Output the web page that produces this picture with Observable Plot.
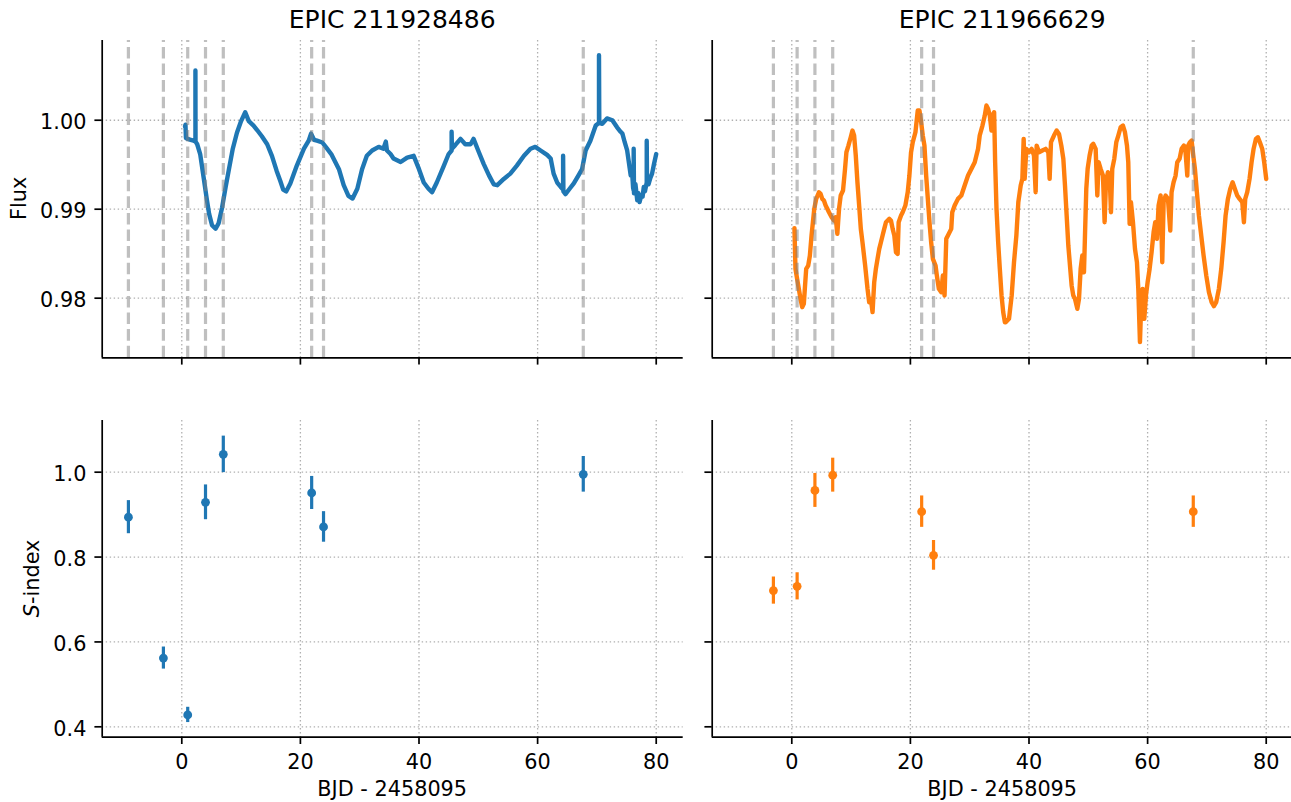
<!DOCTYPE html>
<html>
<head>
<meta charset="utf-8">
<script src="https://cdn.jsdelivr.net/npm/d3@7"></script>
<script src="https://cdn.jsdelivr.net/npm/@observablehq/plot@0.6"></script>
<style>
  html, body { margin: 0; padding: 0; background: #fff; }
  #wrap { position: relative; width: 1291px; height: 802px; overflow: hidden; background: #fff; font-family: "DejaVu Sans", sans-serif; color: #000; }
  .pnl { position: absolute; }
  .lbl { position: absolute; white-space: nowrap; line-height: 1; font-family: "DejaVu Sans", sans-serif; color: #000; }
</style>
</head>
<body>
<div id="wrap"></div>
<script>
// ---------------- data ----------------
const titles = ["EPIC 211928486", "EPIC 211966629"];
const xLabelText = "BJD - 2458095";
const xTicks = [0, 20, 40, 60, 80];
const fluxTicks = [0.98, 0.99, 1.00];
const sTicks = [0.4, 0.6, 0.8, 1.0];

// S-index observations, star 1
const sTime1 = [-9.0, -3.1, 1.0, 4.0, 7.0, 21.9, 23.9, 67.7];
const sIndex1 = [0.894, 0.562, 0.428, 0.929, 1.042, 0.951, 0.871, 0.995];
const sErr1 = [0.039, 0.026, 0.018, 0.041, 0.043, 0.039, 0.036, 0.042];

// S-index observations, star 2
const sTime2 = [-3.1, 0.9, 3.9, 6.9, 21.9, 23.9, 67.7];
const sIndex2 = [0.721, 0.731, 0.957, 0.993, 0.907, 0.804, 0.907];
const sErr2 = [0.032, 0.032, 0.040, 0.040, 0.037, 0.035, 0.037];

// K2 light curve, star 1 (time, flux)
const lcTime1 = [0.55,0.62,0.70,1.0,1.5,2.0,2.3,2.3,2.32,2.6,3.1,3.7,4.2,4.6,5.1,5.7,6.2,6.8,7.4,7.9,8.6,9.3,10.0,10.7,11.3,12.1,12.7,13.5,14.4,15.2,16.0,16.6,17.1,17.6,18.3,19.4,20.6,21.4,21.8,22.3,22.8,23.7,24.5,25.2,26.5,27.3,28.1,28.8,29.6,30.4,31.2,32.1,33.2,34.0,34.4,34.6,35.2,35.7,36.9,38.0,39.1,40.0,40.8,41.6,42.2,43.0,44.2,45.0,45.5,45.5,45.55,46.1,47.0,47.8,48.7,49.2,50.1,50.9,51.8,52.6,53.2,54.3,55.4,56.5,57.7,58.8,59.6,60.5,61.6,62.2,62.7,63.3,63.9,64.3,64.3,64.35,64.7,65.4,66.1,66.8,67.5,68.1,68.9,69.8,70.35,70.35,70.4,70.9,71.7,72.6,73.4,74.0,74.3,74.7,75.1,75.4,75.7,75.9,76.1,76.2,76.2,76.25,76.5,76.8,77.0,77.2,77.5,77.7,77.9,78.1,78.4,78.4,78.45,78.7,79.0,79.3,79.6,80.0];
const lcFlux1 = [0.9993,0.9995,0.9980,0.9979,0.9978,0.9977,0.9976,1.0056,0.9976,0.9973,0.9962,0.9935,0.9912,0.9895,0.9882,0.9878,0.9884,0.9902,0.9925,0.9943,0.9968,0.9986,0.9999,1.0009,0.9999,0.9994,0.9989,0.9982,0.9973,0.9960,0.9943,0.9932,0.9922,0.9920,0.9929,0.9949,0.9968,0.9977,0.9985,0.9978,0.9977,0.9975,0.9968,0.9962,0.9945,0.9927,0.9915,0.9912,0.9923,0.9945,0.9960,0.9966,0.9970,0.9968,0.9976,0.9966,0.9962,0.9957,0.9953,0.9958,0.9960,0.9945,0.9930,0.9923,0.9919,0.9930,0.9949,0.9962,0.9966,0.9987,0.9968,0.9972,0.9979,0.9973,0.9973,0.9979,0.9964,0.9951,0.9938,0.9928,0.9927,0.9934,0.9940,0.9949,0.9960,0.9968,0.9970,0.9966,0.9961,0.9957,0.9940,0.9930,0.9925,0.9922,0.9960,0.9920,0.9917,0.9923,0.9929,0.9937,0.9945,0.9966,0.9977,0.9994,0.9997,1.0073,0.9997,0.9996,1.0002,1.0000,0.9992,0.9987,0.9985,0.9975,0.9966,0.9952,0.9938,0.9946,0.9924,0.9921,0.9968,0.9918,0.9928,0.9910,0.9918,0.9908,0.9916,0.9914,0.9925,0.9920,0.9930,0.9977,0.9930,0.9928,0.9935,0.9940,0.9950,0.9962];

// K2 light curve, star 2 (time, flux)
const lcTime2 = [0.45,0.62,0.90,1.19,1.47,1.75,2.03,2.20,2.43,2.77,3.05,3.33,3.56,3.79,4.12,4.58,4.86,5.14,5.42,5.71,5.99,6.27,6.72,7.12,7.40,7.68,7.97,8.25,8.64,8.98,9.21,9.55,9.94,10.23,10.51,10.79,11.07,11.36,11.64,11.92,12.37,12.77,13.05,13.33,13.62,13.90,14.18,14.46,14.75,15.03,15.31,15.59,15.88,16.16,16.44,16.72,17.01,17.29,17.57,17.85,18.02,18.42,18.70,19.15,19.55,19.83,20.11,20.40,20.85,21.24,21.53,21.81,22.09,22.37,22.66,22.94,23.22,23.50,23.79,24.24,24.46,24.80,25.20,25.48,25.76,26.05,26.33,26.89,27.06,27.46,28.02,28.59,29.15,29.72,30.28,30.85,31.41,31.69,32.15,32.54,32.82,33.11,33.39,33.67,33.84,34.12,34.29,34.52,34.80,35.08,35.37,35.65,35.93,36.07,36.63,37.08,37.47,37.87,38.20,38.60,38.88,39.10,39.27,39.55,40.00,40.45,40.84,41.12,41.29,41.69,42.25,42.81,43.26,43.48,43.71,44.21,44.66,45.06,45.45,45.79,46.07,46.35,46.63,46.91,47.19,47.47,47.75,48.15,48.43,48.71,48.99,49.27,49.44,49.66,49.89,50.22,50.56,50.84,51.24,51.52,51.74,52.08,52.47,52.75,52.98,53.31,53.60,53.82,54.04,54.38,54.72,55.06,55.45,55.84,56.18,56.52,56.74,56.97,57.19,57.53,57.87,58.20,58.43,58.71,58.93,59.16,59.44,59.72,60.00,60.34,60.67,61.01,61.29,61.57,61.85,62.19,62.47,62.70,63.03,63.43,63.82,64.04,64.38,64.72,65.00,65.39,65.73,66.12,66.40,66.69,66.85,67.13,67.42,67.70,67.98,68.31,68.65,69.04,69.44,69.89,70.34,70.79,71.18,71.57,72.02,72.42,72.81,73.15,73.54,73.93,74.33,74.72,75.11,75.51,75.96,76.24,76.46,76.80,77.19,77.53,77.87,78.26,78.60,78.93,79.33,79.66,80.00];
const lcFlux2 = [0.98787,0.98330,0.98217,0.98105,0.97993,0.97899,0.97936,0.98105,0.98330,0.98367,0.98479,0.98704,0.98854,0.99004,0.99116,0.99191,0.99172,0.99116,0.99097,0.99041,0.99004,0.98966,0.98910,0.98873,0.98910,0.98723,0.99004,0.99154,0.99210,0.99453,0.99640,0.99715,0.99809,0.99884,0.99828,0.99603,0.99303,0.99041,0.98779,0.98629,0.98367,0.98105,0.97955,0.97993,0.97843,0.98180,0.98330,0.98442,0.98554,0.98629,0.98704,0.98779,0.98854,0.98873,0.98891,0.98873,0.98779,0.98704,0.98517,0.98498,0.98854,0.98929,0.98966,0.99041,0.99191,0.99378,0.99640,0.99753,0.99865,1.00109,1.00109,0.99978,0.99828,0.99715,0.99378,0.99116,0.98854,0.98629,0.98442,0.98367,0.98255,0.98105,0.98067,0.98255,0.98030,0.98667,0.98704,0.98779,0.98966,0.99041,0.99116,0.99154,0.99266,0.99378,0.99453,0.99528,0.99678,0.99828,0.99940,1.00052,1.00165,1.00127,1.00052,0.99884,1.00052,1.00090,0.99528,0.99004,0.98629,0.98330,0.98030,0.97843,0.97730,0.97730,0.97768,0.98030,0.98404,0.98704,0.99079,0.99266,0.99341,0.99790,0.99341,0.99678,0.99640,0.99678,0.99603,0.99191,0.99715,0.99640,0.99659,0.99678,0.99640,0.99341,0.99753,0.99828,0.99884,0.99846,0.99715,0.99566,0.99266,0.98929,0.98592,0.98367,0.98142,0.98030,0.97993,0.97880,0.97993,0.98330,0.98479,0.98292,0.98704,0.99228,0.99453,0.99603,0.99715,0.99734,0.99678,0.99154,0.99528,0.99453,0.99378,0.98854,0.99303,0.99416,0.99378,0.98966,0.99453,0.99566,0.99753,0.99828,0.99921,0.99940,0.99865,0.99715,0.99528,0.98835,0.99079,0.98854,0.98554,0.98404,0.98105,0.97506,0.97955,0.98105,0.97768,0.98030,0.98180,0.98330,0.98517,0.98742,0.98854,0.98667,0.99041,0.99154,0.98404,0.99079,0.99154,0.99116,0.98760,0.99191,0.99303,0.99378,0.99528,0.99566,0.99678,0.99715,0.99640,0.99378,0.99715,0.99753,0.99772,0.99603,0.99453,0.99191,0.98929,0.98704,0.98479,0.98255,0.98067,0.97955,0.97910,0.97955,0.98105,0.98330,0.98629,0.98929,0.99116,0.99228,0.99303,0.99228,0.99154,0.99116,0.99079,0.98854,0.99116,0.99191,0.99341,0.99528,0.99678,0.99790,0.99809,0.99753,0.99678,0.99528,0.99341];

const colors = ["#1f77b4", "#ff7f0e"];

// ---------------- helpers ----------------
const xDomain = [-13.42, 84.55];
const fluxDomain = [0.97330, 1.00896];
const sDomain = [0.3755, 1.1218];
const FS = 20.8;
const wrap = document.getElementById("wrap");

const gridStyle = {stroke: "#b0b0b0", strokeOpacity: 1, strokeWidth: 1.3, strokeDasharray: "1.4,2.6"};

function panel(pos, yDomain, yTicks, yFmt, showXLabels, dataMarks) {
  const p = Plot.plot({
    width: pos.w, height: pos.h,
    marginLeft: pos.ml, marginRight: pos.mr, marginTop: pos.mt, marginBottom: pos.mb,
    x: {domain: xDomain},
    y: {domain: yDomain},
    style: {fontFamily: "DejaVu Sans", fontSize: FS + "px", color: "#000", background: "transparent", overflow: "visible"},
    marks: [
      Plot.gridX({ticks: xTicks, ...gridStyle}),
      Plot.gridY({ticks: yTicks, ...gridStyle}),
      ...dataMarks,
      Plot.ruleX([xDomain[0]], {stroke: "#000", strokeWidth: 1.7}),
      Plot.ruleY([yDomain[0]], {stroke: "#000", strokeWidth: 1.7}),
      Plot.axisX({ticks: xTicks, tickSize: 7.3, tickFormat: () => "", label: null, stroke: "#000", strokeWidth: 1.7}),
      Plot.axisY({ticks: yTicks, tickSize: 7.3, tickFormat: () => "", label: null, stroke: "#000", strokeWidth: 1.7}),
      showXLabels ? Plot.text(xTicks, {x: d => d, frameAnchor: "bottom", dy: 17, lineAnchor: "top", text: d => String(d), fontSize: FS, fill: "#000"}) : null,
      yFmt ? Plot.text(yTicks, {y: d => d, frameAnchor: "left", dx: -15.8, dy: 2.5, textAnchor: "end", lineAnchor: "middle", text: yFmt, fontSize: FS, fill: "#000"}) : null
    ]
  });
  p.classList.add("pnl");
  p.style.left = pos.left + "px";
  p.style.top = pos.top + "px";
  wrap.appendChild(p);
}

function lcMarks(ts, fs, obs, color) {
  const data = ts.map((t, i) => ({t, f: fs[i]}));
  return [
    Plot.line(data, {x: "t", y: "f", stroke: color, strokeWidth: 4.4, strokeLinejoin: "round", strokeLinecap: "round"}),
    Plot.ruleX(obs, {x: d => d, y1: () => fluxDomain[0], y2: () => fluxDomain[1], stroke: "#808080", strokeOpacity: 0.5, strokeWidth: 3.2, strokeDasharray: "11.6,5"})
  ];
}

function sMarks(ts, ss, es, color) {
  const data = ts.map((t, i) => ({t, s: ss[i], e: es[i]}));
  return [
    Plot.ruleX(data, {x: "t", y1: d => d.s - d.e, y2: d => d.s + d.e, stroke: color, strokeWidth: 3.2}),
    Plot.dot(data, {x: "t", y: "s", r: 4.4, fill: color, stroke: "none"})
  ];
}

const posTL = {left: 0, top: 0, w: 700, h: 400, ml: 101.7, mr: 17.3, mt: 40, mb: 42.7};
const posTR = {left: 700, top: 0, w: 600, h: 400, ml: 11.7, mr: 7.3, mt: 40, mb: 42.7};
const posBL = {left: 0, top: 400, w: 700, h: 402, ml: 101.7, mr: 17.3, mt: 20, mb: 65.3};
const posBR = {left: 700, top: 400, w: 600, h: 402, ml: 11.7, mr: 7.3, mt: 20, mb: 65.3};

const f2 = d3.format(".2f"), f1 = d3.format(".1f");
panel(posTL, fluxDomain, fluxTicks, f2, false, lcMarks(lcTime1, lcFlux1, sTime1, colors[0]));
panel(posTR, fluxDomain, fluxTicks, null, false, lcMarks(lcTime2, lcFlux2, sTime2, colors[1]));
panel(posBL, sDomain, sTicks, f1, true, sMarks(sTime1, sIndex1, sErr1, colors[0]));
panel(posBR, sDomain, sTicks, null, true, sMarks(sTime2, sIndex2, sErr2, colors[1]));

// ---------------- text labels ----------------
function label(html, cx, baseline, size, rotate) {
  const d = document.createElement("div");
  d.className = "lbl";
  d.innerHTML = html;
  d.style.fontSize = size + "px";
  wrap.appendChild(d);
  const w = d.getBoundingClientRect().width;
  if (!rotate) {
    d.style.left = (cx - w / 2) + "px";
    d.style.top = (baseline - 0.846 * size) + "px";
  } else {
    const centerX = baseline - 0.346 * size;
    d.style.left = (centerX - w / 2) + "px";
    d.style.top = (cx - size / 2) + "px";
    d.style.transform = "rotate(-90deg)";
    d.style.transformOrigin = "50% 50%";
  }
}
label(titles[0], 392.2, 28.3, 25, false);
label(titles[1], 1002.2, 28.3, 25, false);
label(xLabelText, 392.2, 796.7, FS, false);
label(xLabelText, 1002.2, 796.7, FS, false);
label("Flux", 198.6, 27, FS, true);
label("<i>S</i>-index", 578.4, 40, FS, true);
</script>
</body>
</html>
